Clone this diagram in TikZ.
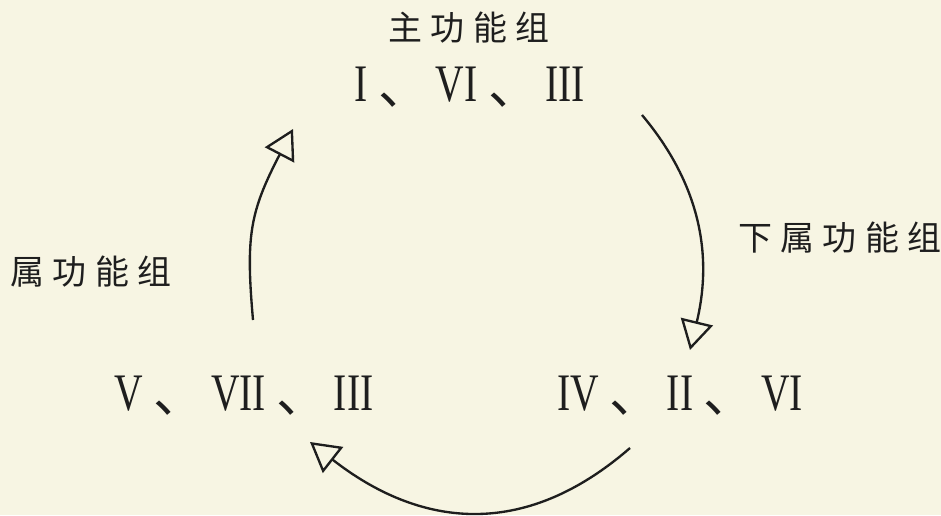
\documentclass[tikz,border=0pt]{standalone}
\usepackage{fontspec}
\usetikzlibrary{arrows.meta}
\newfontfamily\cjkfont{Noto Sans CJK SC}
\newfontfamily\grpfont[LetterSpace=24]{Noto Sans CJK SC}
\newfontfamily\numfont[FakeStretch=0.75]{Liberation Serif}
\definecolor{paper}{RGB}{247,245,227}
\definecolor{ink}{RGB}{30,30,30}
\newcommand{\dun}{\hspace{9pt}\raisebox{-2pt}{\cjkfont\fontsize{44}{48}\selectfont 、}\hspace{5pt}}

\begin{document}
\begin{tikzpicture}[x=0.3mm,y=0.3mm,
  grp/.style={inner sep=0pt,anchor=base,text=ink,font=\grpfont\fontsize{29}{34}\selectfont},
  chord/.style={inner sep=0pt,anchor=base,text=ink,font=\numfont\fontsize{45}{50}\selectfont},
  cyc/.style={draw=ink,line width=2pt,-{Triangle[open,length=25pt,width=28pt]}}]
\fill[paper] (0,0) rectangle (941,515);
\useasboundingbox (0,0) rectangle (941,515);

\node[grp] (tname) at (469,474) {主功能组};
\node[chord] (tonic) at (470,413) {I\dun VI\dun III};

\node[grp] (dname) at (91,230) {属功能组};
\node[chord] (dom) at (244,105) {V\dun VII\dun III};

\node[grp] (sname) at (840,264) {下属功能组};
\node[chord] (sub) at (680,105) {IV\dun II\dun VI};

\coordinate (t-out) at (642,400);
\coordinate (s-in) at (690,165);
\coordinate (s-out) at (630,67);
\coordinate (d-in) at (310,73);
\coordinate (d-out) at (253,195);
\coordinate (t-in) at (293,386);

\draw[cyc] (t-out) .. controls +(-50:101) and +(76.4:86.5) .. (s-in);
\draw[cyc] (s-out) .. controls +(-139:143) and +(-38:137) .. (d-in);
\draw[cyc] (d-out) .. controls +(95:84) and +(-117.5:94) .. (t-in);
\end{tikzpicture}
\end{document}
